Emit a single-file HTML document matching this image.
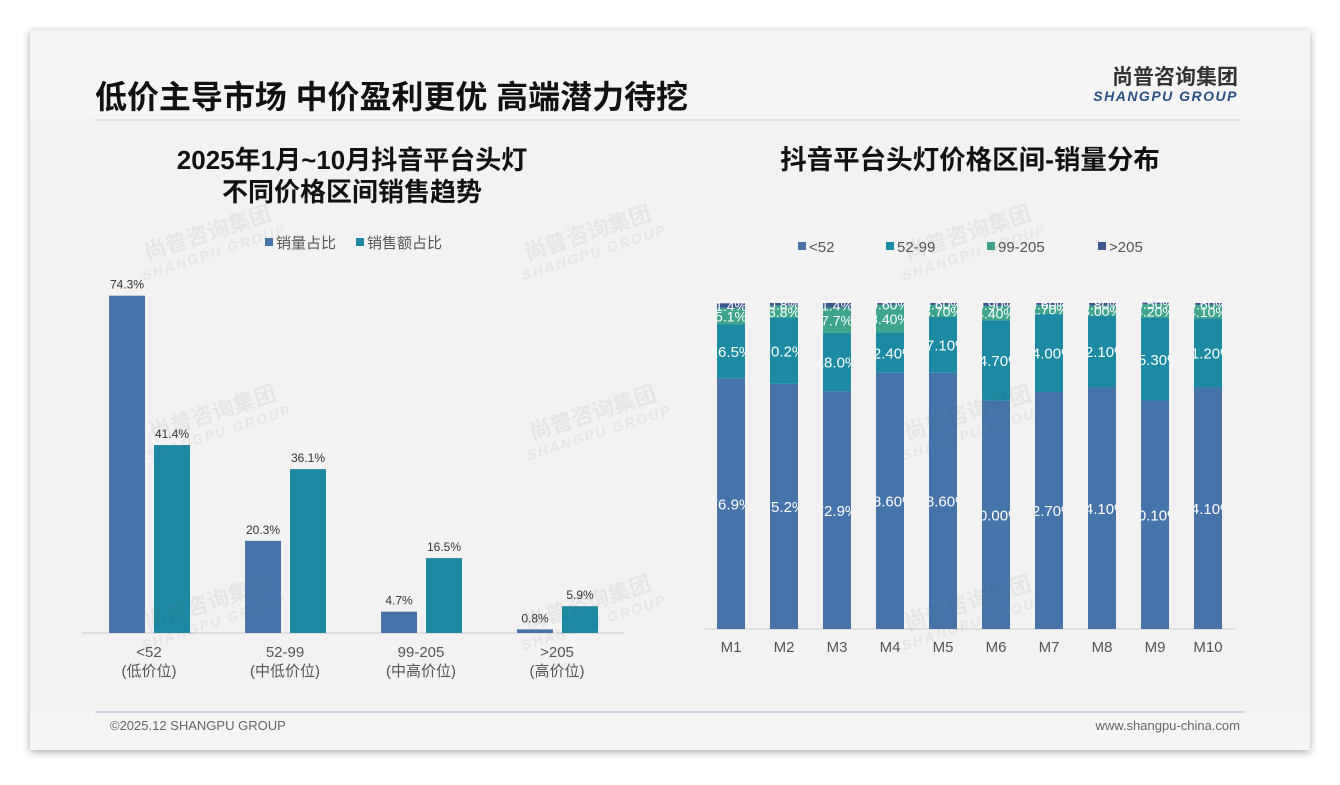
<!DOCTYPE html>
<html><head><meta charset="utf-8">
<style>
html,body{margin:0;padding:0;background:#fff;}
body{width:1340px;height:780px;overflow:hidden;font-family:"Liberation Sans","Noto Sans CJK SC",sans-serif;}
svg text{font-family:"Liberation Sans","Noto Sans CJK SC",sans-serif;}
</style></head>
<body>
<svg id="s" width="1340" height="780" viewBox="0 0 1340 780" xmlns="http://www.w3.org/2000/svg">
<defs>
<filter id="sh" x="-5%" y="-5%" width="110%" height="110%"><feDropShadow dx="0" dy="2" stdDeviation="4" flood-color="#000" flood-opacity="0.35"/></filter>
</defs>
<rect x="30" y="30" width="1280" height="720" fill="#f5f5f5" filter="url(#sh)"/>
<rect x="30" y="118" width="1280" height="594" fill="#f2f2f2"/>
<text x="95" y="108" font-size="32" font-weight="bold" fill="#111" textLength="593">低价主导市场 中价盈利更优 高端潜力待挖</text>
<line x1="95" y1="120" x2="1240" y2="120" stroke="#ddd" stroke-width="1.5"/>
<text x="1238" y="84" font-size="21" font-weight="bold" fill="#333" text-anchor="end">尚普咨询集团</text>
<text x="1238" y="101" font-size="14" font-weight="bold" font-style="italic" fill="#2a4f82" text-anchor="end" letter-spacing="1.5">SHANGPU GROUP</text>

<text x="352" y="169" font-size="26" font-weight="bold" fill="#111" text-anchor="middle">2025年1月~10月抖音平台头灯</text>
<text x="352" y="201" font-size="26" font-weight="bold" fill="#111" text-anchor="middle">不同价格区间销售趋势</text>
<text x="970" y="169" font-size="26.5" font-weight="bold" fill="#111" text-anchor="middle">抖音平台头灯价格区间-销量分布</text>

<g id="left"></g>
<g id="right"></g>

<line x1="95" y1="712" x2="1245" y2="712" stroke="#9fb8d6" stroke-width="1"/>
<text x="110" y="730" font-size="13" fill="#666">©2025.12 SHANGPU GROUP</text>
<text x="1240" y="730" font-size="13" fill="#666" text-anchor="end">www.shangpu-china.com</text>
</svg>
<script>
const NS='http://www.w3.org/2000/svg';
const leftCats=['<52','52-99','99-205','>205'];
const leftSubs=['(低价位)','(中低价位)','(中高价位)','(高价位)'];
const volShare=[74.3,20.3,4.7,0.8];
const salesShare=[41.4,36.1,16.5,5.9];
const months=['M1','M2','M3','M4','M5','M6','M7','M8','M9','M10'];
const s1=[76.9,75.2,72.9,78.6,78.6,70.0,72.7,74.1,70.1,74.1];
const s2=[16.5,20.2,18.0,12.4,17.1,24.7,24.0,22.1,25.3,21.2];
const s3=[5.1,3.8,7.7,8.4,3.7,4.4,2.7,3.0,4.2,4.1];
const s4=[1.4,0.8,1.4,0.6,0.6,0.9,0.6,0.8,0.5,0.6];
const s1Lbl=['76.9%','75.2%','72.9%','78.60%','78.60%','70.00%','72.70%','74.10%','70.10%','74.10%'];
const s2Lbl=['16.5%','20.2%','18.0%','12.40%','17.10%','24.70%','24.00%','22.10%','25.30%','21.20%'];
const s3Lbl=['5.1%','3.8%','7.7%','8.40%','3.70%','4.40%','2.70%','3.00%','4.20%','4.10%'];
const s4Lbl=['1.4%','0.8%','1.4%','0.60%','0.60%','0.90%','0.60%','0.80%','0.50%','0.60%'];
const C1='#4674aa',C2='#1b8aa2',C3='#3ea58c',C4='#3e5592';

function el(tag,attrs,parent,txt){const e=document.createElementNS(NS,tag);for(const k in attrs)e.setAttribute(k,attrs[k]);if(txt!==undefined)e.textContent=txt;parent.appendChild(e);return e;}

const svg=document.getElementById('s');
[[210,240],[590,240],[970,240],[215,420],[595,420],[970,420],[210,610],[590,610],[970,610]].forEach((p,i)=>{
  const g=el('g',{transform:`translate(${p[0]},${p[1]}) rotate(-18)`,opacity:'0.08'},svg);
  
  
  el('text',{x:0,y:0,'font-size':22,'font-weight':'bold',fill:'#555','text-anchor':'middle'},g,'尚普咨询集团');
  el('text',{x:0,y:18,'font-size':14,'font-weight':'bold','font-style':'italic',fill:'#555','text-anchor':'middle','letter-spacing':'2'},g,'SHANGPU GROUP');
});

const L=document.getElementById('left');
const base=633, pxPer=4.54;
const yL=v=>base-v*pxPer;
const gx=i=>109+i*136;
el('line',{x1:82,y1:base,x2:625,y2:base,stroke:'#ccc','stroke-width':1},L);
let lg=el('g',{},L);


el('rect',{x:265,y:238,width:8,height:8,fill:C1},lg);
el('text',{x:276,y:248,'font-size':15,fill:'#555'},lg,'销量占比');
el('rect',{x:356,y:238,width:8,height:8,fill:C2},lg);
el('text',{x:367,y:248,'font-size':15,fill:'#555'},lg,'销售额占比');
leftCats.forEach((c,i)=>{
  const x=gx(i);
  let b=el('rect',{x:x,y:yL(volShare[i]),width:36,height:volShare[i]*pxPer,fill:C1},L);
  
  
  el('text',{x:x+18,y:yL(volShare[i])-7,'font-size':12,fill:'#333','text-anchor':'middle'},L,volShare[i].toFixed(1)+'%');
  let b2=el('rect',{x:x+45,y:yL(salesShare[i]),width:36,height:salesShare[i]*pxPer,fill:C2},L);
  
  
  el('text',{x:x+63,y:yL(salesShare[i])-7,'font-size':12,fill:'#333','text-anchor':'middle'},L,salesShare[i].toFixed(1)+'%');
  let t=el('text',{x:x+40,y:657,'font-size':15,fill:'#555','text-anchor':'middle'},L,c);
  
  
  el('text',{x:x+40,y:676,'font-size':15,fill:'#555','text-anchor':'middle'},L,leftSubs[i]);
});

const R=document.getElementById('right');
const rb=629, rh=326;
const yR=v=>rb-v/100*rh;
el('line',{x1:705,y1:rb,x2:1235,y2:rb,stroke:'#ccc','stroke-width':1},R);
const lgR=el('g',{},R);


[['<52',C1,798],['52-99',C2,886],['99-205',C3,987],['>205',C4,1098]].forEach(l=>{
  el('rect',{x:l[2],y:242,width:8,height:8,fill:l[1]},lgR);
  el('text',{x:l[2]+11,y:252,'font-size':15,fill:'#555'},lgR,l[0]);
});
const defs=el('defs',{},R);
const series=[[s1,s1Lbl,C1],[s2,s2Lbl,C2],[s3,s3Lbl,C3],[s4,s4Lbl,C4]];
months.forEach((m,i)=>{
  const cx=731+i*53, w=28, x=cx-w/2;
  const cp=el('clipPath',{id:'cp'+i},defs);
  el('rect',{x:x,y:250,width:w,height:400},cp);
  let cum=0;
  series.forEach((s,k)=>{
    const v=s[0][i];
    const y0=yR(cum+v), h=v/100*rh;
    let r=el('rect',{x:x,y:y0,width:w,height:h,fill:s[2]},R);
    
    
    const fs=k<2?15:14;
    el('text',{x:cx,y:y0+h/2+fs*0.38,'font-size':fs,fill:'#fff','text-anchor':'middle','clip-path':'url(#cp'+i+')'},R,s[1][i]);
    cum+=v;
  });
  let t=el('text',{x:cx,y:652,'font-size':15,fill:'#555','text-anchor':'middle'},R,m);
  
  
});
</script>
</body></html>
